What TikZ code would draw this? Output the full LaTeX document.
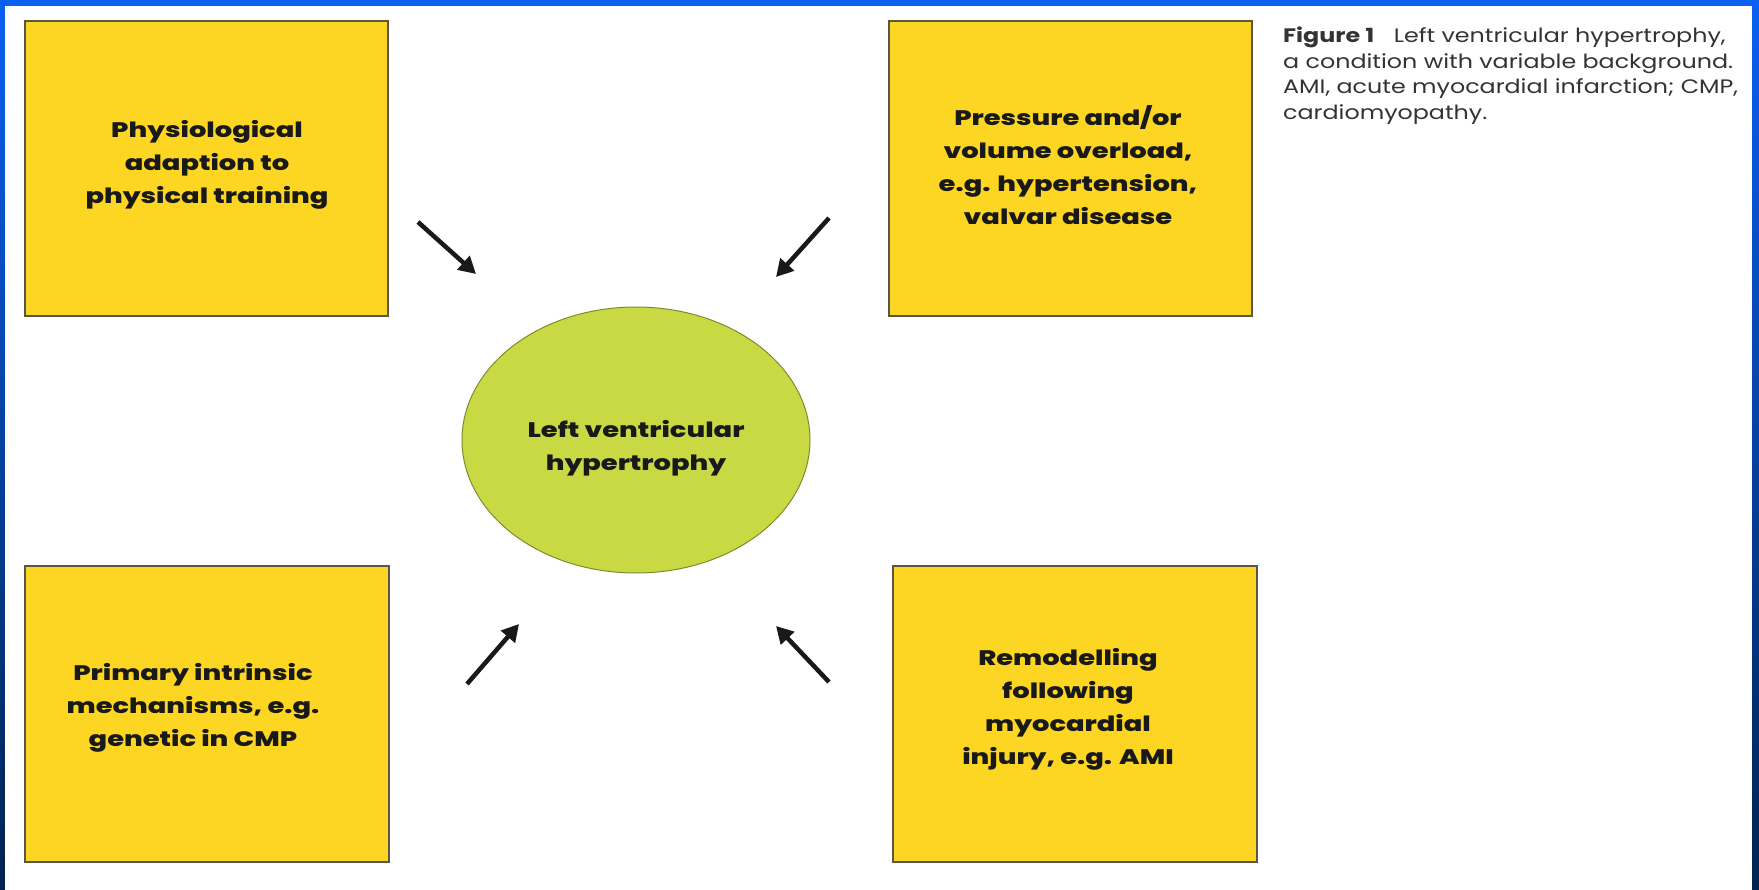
\documentclass[tikz,border=0pt]{standalone}
\usepackage{fontspec}
\setmainfont{Poppins}
\newfontfamily\heavyfont{Poppins ExtraBold}[FakeStretch=1.3]
\newfontfamily\capfont{Poppins}[FakeStretch=1.22]
\usetikzlibrary{arrows.meta,shapes.geometric}
\definecolor{boxyellow}{HTML}{FCD623}
\definecolor{boxline}{HTML}{5C5444}
\definecolor{ellgreen}{HTML}{C9D944}
\definecolor{ellline}{HTML}{7F8C2E}
\definecolor{frametop}{HTML}{0A60F2}
\definecolor{framebot}{HTML}{00224F}
\definecolor{captext}{HTML}{333333}
\tikzset{
  causebox/.style={draw=boxline, line width=2pt, fill=boxyellow, minimum width=363pt, minimum height=295pt, inner sep=0pt},
  boxtext/.style={align=center, font=\heavyfont\fontsize{21}{33}\selectfont, text=black!90},
  inarrow/.style={line width=4.5pt, -{Triangle[length=17pt,width=18pt]}, black!90},
}
\begin{document}
\begin{tikzpicture}[x=1pt,y=-1pt]
\useasboundingbox (0,0) rectangle (1759,890);
\shade[top color=frametop, bottom color=framebot] (0,0) rectangle (1759,890);
\fill[white] (5,6) rectangle (1752,890);

\node[causebox] (tl) at (206.5,168.5) {};
\node[causebox] (tr) at (1070,169) {};
\node[causebox, minimum width=364pt, minimum height=296pt] (bl) at (206.5,713.5) {};
\node[causebox, minimum width=364pt, minimum height=296pt] (br) at (1075,714) {};

\node[boxtext] (tlt) at (207,165) {Physiological\\adaption to\\physical training};
\node[boxtext] (trt) at (1068,165) {Pressure and/or\\volume overload,\\e.g. hypertension,\\valvar disease};
\node[boxtext] (blt) at (193,708) {Primary intrinsic\\mechanisms, e.g.\\genetic in CMP};
\node[boxtext] (brt) at (1068,709) {Remodelling\\following\\myocardial\\injury, e.g. AMI};

\node[ellipse, draw=ellline, line width=1pt, fill=ellgreen, minimum width=348pt, minimum height=266pt, inner sep=0pt] (lvh) at (636,440) {};
\node[boxtext] (lvht) at (636,448) {Left ventricular\\hypertrophy};

\coordinate (a1s) at (418,222); \coordinate (a1e) at (476,274);
\coordinate (a2s) at (829,218); \coordinate (a2e) at (776,277);
\coordinate (a3s) at (467,684); \coordinate (a3e) at (519,624);
\coordinate (a4s) at (829,682); \coordinate (a4e) at (776,626);
\draw[inarrow] (a1s) -- (a1e);
\draw[inarrow] (a2s) -- (a2e);
\draw[inarrow] (a3s) -- (a3e);
\draw[inarrow] (a4s) -- (a4e);

\node[anchor=north west, align=left, inner sep=0pt, text=captext, font=\capfont\fontsize{19.5}{25.5}\selectfont] (cap) at (1283,27)
  {{\bfseries Figure 1}\quad Left ventricular hypertrophy,\\a condition with variable background.\\AMI, acute myocardial infarction; CMP,\\cardiomyopathy.};
\end{tikzpicture}
\end{document}
